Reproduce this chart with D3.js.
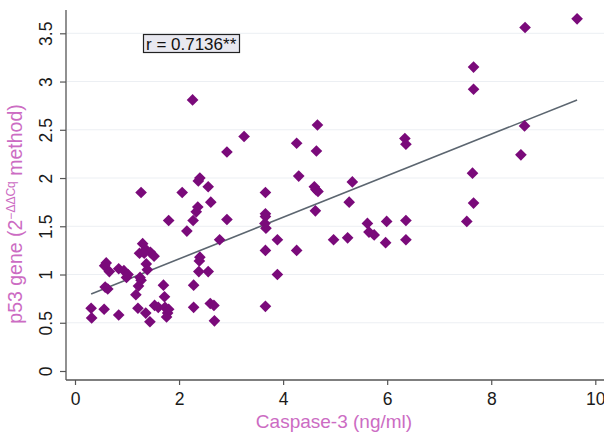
<!DOCTYPE html>
<html>
<head>
<meta charset="utf-8">
<script src="https://cdn.jsdelivr.net/npm/d3@7"></script>
<style>
  body { margin: 0; background: #fff; }
  svg { font-family: "Liberation Sans", Arial, sans-serif; }
</style>
</head>
<body>
<svg id="chart" width="604" height="435"></svg>
<script>
// caspase-3 (ng/ml) vs p53 expression
const caspase = [
  0.31, 0.32, 0.56, 0.57, 0.60, 0.66, 0.58, 0.63, 0.84, 0.84, 0.94, 0.99, 1.02,
  1.21, 1.17, 1.22, 1.27, 1.25, 1.24, 1.30, 1.36, 1.45, 1.52, 1.33, 1.37, 1.39,
  1.36, 1.44, 1.53, 1.60, 1.70, 1.72, 1.73, 1.78, 1.76, 1.80, 1.80, 1.27,
  2.06, 2.15, 2.26, 2.27, 2.33, 2.36, 2.40, 2.37, 2.56, 2.61, 2.40, 2.39, 2.38,
  2.56, 2.28, 2.28, 2.60, 2.67, 2.68, 2.78, 2.92, 2.92, 3.25,
  3.66, 3.66, 3.66, 3.65, 3.67, 3.66, 3.66, 3.89, 3.89, 4.26, 4.26, 4.30, 4.63,
  4.60, 4.67, 4.62, 4.64, 4.66, 4.97, 5.24, 5.27, 5.33,
  5.62, 5.65, 5.75, 5.99, 5.97, 6.34, 6.36, 6.36, 6.36, 7.53, 7.66, 7.64, 7.66,
  7.66, 8.57, 8.64, 8.65, 9.65
];
const p53 = [
  0.65, 0.55, 0.64, 1.09, 1.12, 1.03, 0.87, 0.85, 0.58, 1.06, 1.04, 0.97, 1.00,
  0.65, 0.79, 0.88, 0.94, 0.97, 1.22, 1.32, 1.26, 1.23, 1.19, 1.22, 1.11, 1.05,
  0.60, 0.51, 0.68, 0.66, 0.89, 0.77, 0.66, 0.60, 0.56, 0.64, 1.56, 1.85,
  1.85, 1.45, 2.81, 1.56, 1.65, 1.70, 2.00, 1.97, 1.91, 1.75, 1.18, 1.14, 1.03,
  1.03, 0.89, 0.66, 0.70, 0.68, 0.52, 1.36, 1.57, 2.27, 2.43,
  1.85, 1.63, 1.60, 1.53, 1.48, 1.25, 0.67, 1.36, 1.00, 1.25, 2.36, 2.02, 1.88,
  1.91, 1.86, 1.66, 2.28, 2.55, 1.36, 1.38, 1.75, 1.96,
  1.53, 1.44, 1.41, 1.55, 1.33, 2.41, 2.35, 1.56, 1.36, 1.55, 1.74, 2.05, 2.92,
  3.15, 2.24, 2.54, 3.56, 3.65
];

const xTicks = [0, 2, 4, 6, 8, 10];
const yTicks = [0, 0.5, 1, 1.5, 2, 2.5, 3, 3.5];
const fitIntercept = 0.731, fitSlope = 0.2154;
const rLabel = "r = 0.7136**";

const points = caspase.map((c, i) => ({ x: c, y: p53[i] }));

const svg = d3.select('#chart');
const PURPLE = "#7a0a7a", PINK = "#cc6cc3", AXIS = "#555";

const xScale = d3.scaleLinear().domain([0, 10]).range([75, 595.3]);
const yScale = d3.scaleLinear().domain([0, 3.5]).range([371, 33.3]);

// faint gridlines
svg.append('g').selectAll('line').data(yTicks.filter(d => d > 0))
  .enter().append('line')
  .attr('x1', 67).attr('x2', 604)
  .attr('y1', d => yScale(d)).attr('y2', d => yScale(d))
  .attr('stroke', '#eceff3').attr('stroke-width', 1);

// axes
const xAxis = d3.axisBottom(xScale).tickValues(xTicks).tickSize(5).tickPadding(8)
  .tickFormat(d3.format('d'));
const yAxis = d3.axisLeft(yScale).tickValues(yTicks).tickSize(6).tickPadding(7)
  .tickFormat(d => d);

const xG = svg.append('g').attr('transform', 'translate(0,380)').call(xAxis);
const yG = svg.append('g').attr('transform', 'translate(66,0)').call(yAxis);
xG.select('.domain').remove();
yG.select('.domain').remove();

svg.append('line').attr('x1', 66).attr('x2', 604).attr('y1', 380).attr('y2', 380)
  .attr('stroke', AXIS).attr('stroke-width', 1.3);
svg.append('line').attr('x1', 66).attr('x2', 66).attr('y1', 10).attr('y2', 380)
  .attr('stroke', AXIS).attr('stroke-width', 1.3);

[xG, yG].forEach(g => {
  g.selectAll('.tick line').attr('stroke', AXIS).attr('stroke-width', 1.2);
  g.selectAll('.tick text').attr('fill', '#1a1a1a')
    .style('font-size', '17.5px').style('font-family', '"Liberation Sans", Arial, sans-serif');
});
yG.selectAll('.tick text')
  .attr('text-anchor', 'middle').attr('dy', 0)
  .attr('transform', 'translate(-14,0) rotate(-90)')
  .attr('x', 0).attr('y', 0);
xG.selectAll('.tick text').attr('dy', '0.71em');

// regression line
const ext = d3.extent(caspase);
const fitLine = d3.line()
  .x(d => xScale(d))
  .y(d => yScale(fitIntercept + fitSlope * d));
svg.append('path')
  .attr('d', fitLine(ext))
  .attr('fill', 'none')
  .attr('stroke', '#5c6670')
  .attr('stroke-width', 1.6);

// points
const diamond = d3.symbol().type(d3.symbolSquare).size(68);
svg.selectAll('path.pt').data(points)
  .enter().append('path')
  .attr('class', 'pt')
  .attr('d', diamond)
  .attr('transform', d => `translate(${xScale(d.x)},${yScale(d.y)}) rotate(45)`)
  .attr('fill', PURPLE);

// r annotation
svg.append('rect')
  .attr('x', 143.5).attr('y', 34.5).attr('width', 96).attr('height', 18)
  .attr('fill', '#e8e8f0').attr('stroke', '#222').attr('stroke-width', 1.2);
svg.append('text')
  .attr('x', 146).attr('y', 50)
  .style('font-size', '17px').attr('fill', '#111')
  .text(rLabel);

// axis titles
svg.append('text')
  .attr('x', 334).attr('y', 428)
  .attr('text-anchor', 'middle')
  .style('font-size', '19px').attr('fill', PINK)
  .text('Caspase-3 (ng/ml)');

const yTitle = svg.append('text')
  .attr('transform', 'translate(22,214) rotate(-90)')
  .attr('text-anchor', 'middle')
  .style('font-size', '19.5px').attr('fill', PINK);
yTitle.append('tspan').text('p53 gene (2');
yTitle.append('tspan').attr('dy', -7).style('font-size', '12px').text('\u2212\u0394\u0394Cq');
yTitle.append('tspan').attr('dy', 7).text(' method)');
</script>
</body>
</html>
